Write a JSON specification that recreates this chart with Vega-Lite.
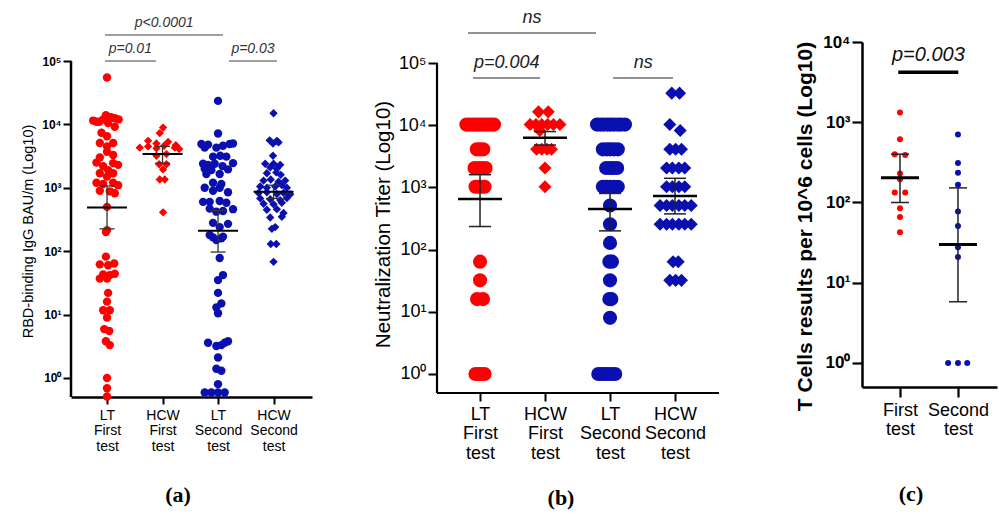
{
"$schema": "https://vega.github.io/schema/vega-lite/v6.json",
"padding": {"left": 20, "top": 9, "right": 1, "bottom": 1},
"concat": [
{
"width": 241, "height": 355,
"title": {"text": "(a)", "orient": "bottom", "anchor": "middle", "frame": "group", "offset": 32, "dx": -13.5, "font": "Liberation Serif", "fontSize": 22, "fontWeight": "bold", "color": "black"},
"layer": [
{"data": {"name": "a_pts"}, "mark": {"type": "point", "filled": true, "opacity": 1, "size": 70, "strokeWidth": 0},
"encoding": {
"x": {"field": "x", "type": "quantitative", "scale": {"domain": [0.351, 4.693], "nice": false, "zero": false},
"axis": {"values": [1, 2, 3, 4], "labelExpr": "split(['','LT|First|test','HCW|First|test','LT|Second|test','HCW|Second|test'][datum.value],'|')", "title": null, "labelFontSize": 14, "labelLineHeight": 15.5, "labelPadding": 4, "tickSize": 7, "tickWidth": 2, "domainWidth": 2.5, "labelOverlap": false, "labelFlush": false, "grid": false}},
"y": {"field": "v", "type": "quantitative", "scale": {"type": "log", "domain": [0.5012, 199500], "nice": false},
"axis": {"values": [1, 10, 100, 1000, 10000, 100000], "labelExpr": "'10' + ['⁰','¹','²','³','⁴','⁵'][round(log(datum.value)/LN10)]", "title": "RBD-binding IgG BAU/m (Log10)", "titleY": 189, "titleFontSize": 14.5, "titleFontWeight": "normal", "titlePadding": 6, "labelFontSize": 12, "labelFontWeight": "bold", "labelPadding": 2, "tickSize": 8, "tickWidth": 2, "domain": false, "grid": false, "labelOverlap": false}},
"color": {"field": "test", "type": "nominal", "scale": {"domain": ["First", "Second"], "range": ["#ff0000", "#0a0fb0"]}, "legend": null},
"shape": {"field": "cohort", "type": "nominal", "scale": {"domain": ["LT", "HCW"], "range": ["circle", "diamond"]}, "legend": null}
}},
{"data": {"name": "a_stats"}, "mark": {"type": "rule", "color": "#333333", "strokeWidth": 1.3},
"encoding": {"x": {"field": "g", "type": "quantitative", "scale": {"domain": [0.351, 4.693], "nice": false, "zero": false}},
"y": {"field": "lo", "type": "quantitative", "scale": {"type": "log", "domain": [0.5012, 199500], "nice": false}}, "y2": {"field": "hi"}}},
{"data": {"name": "a_stats"}, "mark": {"type": "tick", "orient": "horizontal", "size": 15, "thickness": 1.3, "color": "#333333", "opacity": 1},
"encoding": {"x": {"field": "g", "type": "quantitative", "scale": {"domain": [0.351, 4.693], "nice": false, "zero": false}},
"y": {"field": "lo", "type": "quantitative", "scale": {"type": "log", "domain": [0.5012, 199500], "nice": false}}}},
{"data": {"name": "a_stats"}, "mark": {"type": "tick", "orient": "horizontal", "size": 15, "thickness": 1.3, "color": "#333333", "opacity": 1},
"encoding": {"x": {"field": "g", "type": "quantitative", "scale": {"domain": [0.351, 4.693], "nice": false, "zero": false}},
"y": {"field": "hi", "type": "quantitative", "scale": {"type": "log", "domain": [0.5012, 199500], "nice": false}}}},
{"data": {"name": "a_stats"}, "mark": {"type": "tick", "orient": "horizontal", "size": 40, "thickness": 2, "color": "black", "opacity": 1},
"encoding": {"x": {"field": "g", "type": "quantitative", "scale": {"domain": [0.351, 4.693], "nice": false, "zero": false}},
"y": {"field": "mean", "type": "quantitative", "scale": {"type": "log", "domain": [0.5012, 199500], "nice": false}}}},
{"data": {"values": [{}]}, "mark": {"type": "rule", "color": "black", "strokeWidth": 2.5},
"encoding": {"x": {"datum": 0.351, "type": "quantitative", "scale": {"domain": [0.351, 4.693], "nice": false, "zero": false}},
"y": {"datum": 0.5012, "type": "quantitative", "scale": {"type": "log", "domain": [0.5012, 199500], "nice": false}}, "y2": {"datum": 100000}}},
{"data": {"name": "a_sig"}, "mark": {"type": "rule", "color": "#808080", "strokeWidth": 1.5},
"encoding": {"x": {"field": "x1", "type": "quantitative", "scale": {"domain": [0.351, 4.693], "nice": false, "zero": false}}, "x2": {"field": "x2"},
"y": {"field": "y", "type": "quantitative", "scale": {"type": "log", "domain": [0.5012, 199500], "nice": false}}}},
{"data": {"name": "a_sig"}, "mark": {"type": "text", "fontStyle": "italic", "fontSize": 14, "color": "#333333", "baseline": "alphabetic", "dy": -8},
"encoding": {"x": {"field": "xm", "type": "quantitative", "scale": {"domain": [0.351, 4.693], "nice": false, "zero": false}},
"y": {"field": "y", "type": "quantitative", "scale": {"type": "log", "domain": [0.5012, 199500], "nice": false}}, "text": {"field": "label"}}}
]
},
{
"width": 300, "height": 351,
"title": {"text": "(b)", "orient": "bottom", "anchor": "middle", "frame": "group", "offset": 26, "dx": -26, "font": "Liberation Serif", "fontSize": 22, "fontWeight": "bold", "color": "black"},
"layer": [
{"data": {"name": "b_pts"}, "mark": {"type": "point", "filled": true, "opacity": 1, "strokeWidth": 0},
"encoding": {
"x": {"field": "x", "type": "quantitative", "scale": {"domain": [0.338, 4.954], "nice": false, "zero": false},
"axis": {"values": [1, 2, 3, 4], "labelExpr": "split(['','LT|First|test','HCW|First|test','LT|Second|test','HCW|Second|test'][datum.value],'|')", "title": null, "labelFontSize": 18, "labelLineHeight": 19.5, "labelPadding": 4, "tickSize": 8, "tickWidth": 2, "domain": false, "labelOverlap": false, "labelFlush": false, "grid": false}},
"y": {"field": "v", "type": "quantitative", "scale": {"type": "log", "domain": [0.4947, 217600], "nice": false},
"axis": {"values": [1, 10, 100, 1000, 10000, 100000], "labelExpr": "'10' + ['⁰','¹','²','³','⁴','⁵'][round(log(datum.value)/LN10)]", "title": "Neutralization Titer (Log10)", "titleY": 182, "titleFontSize": 20.5, "titleFontWeight": "normal", "titlePadding": 5, "labelFontSize": 18, "labelFontWeight": "normal", "labelPadding": 2, "tickSize": 9, "tickWidth": 2, "domain": false, "grid": false, "labelOverlap": false}},
"color": {"field": "test", "type": "nominal", "scale": {"domain": ["First", "Second"], "range": ["#ff0000", "#0a0fb0"]}, "legend": null},
"shape": {"field": "cohort", "type": "nominal", "scale": {"domain": ["LT", "HCW"], "range": ["circle", "diamond"]}, "legend": null},
"size": {"field": "cohort", "type": "ordinal", "scale": {"domain": ["LT", "HCW"], "range": [200, 170]}, "legend": null}
}},
{"data": {"name": "b_stats"}, "mark": {"type": "rule", "color": "#222222", "strokeWidth": 1.5},
"encoding": {"x": {"field": "g", "type": "quantitative", "scale": {"domain": [0.338, 4.954], "nice": false, "zero": false}},
"y": {"field": "lo", "type": "quantitative", "scale": {"type": "log", "domain": [0.4947, 217600], "nice": false}}, "y2": {"field": "hi"}}},
{"data": {"name": "b_stats"}, "mark": {"type": "tick", "orient": "horizontal", "size": 22, "thickness": 1.5, "color": "#222222", "opacity": 1},
"encoding": {"x": {"field": "g", "type": "quantitative", "scale": {"domain": [0.338, 4.954], "nice": false, "zero": false}},
"y": {"field": "lo", "type": "quantitative", "scale": {"type": "log", "domain": [0.4947, 217600], "nice": false}}}},
{"data": {"name": "b_stats"}, "mark": {"type": "tick", "orient": "horizontal", "size": 22, "thickness": 1.5, "color": "#222222", "opacity": 1},
"encoding": {"x": {"field": "g", "type": "quantitative", "scale": {"domain": [0.338, 4.954], "nice": false, "zero": false}},
"y": {"field": "hi", "type": "quantitative", "scale": {"type": "log", "domain": [0.4947, 217600], "nice": false}}}},
{"data": {"name": "b_stats"}, "mark": {"type": "tick", "orient": "horizontal", "size": 44, "thickness": 2.5, "color": "black", "opacity": 1},
"encoding": {"x": {"field": "g", "type": "quantitative", "scale": {"domain": [0.338, 4.954], "nice": false, "zero": false}},
"y": {"field": "mean", "type": "quantitative", "scale": {"type": "log", "domain": [0.4947, 217600], "nice": false}}}},
{"data": {"values": [{}]}, "mark": {"type": "rule", "color": "black", "strokeWidth": 2.2},
"encoding": {"x": {"datum": 0.338, "type": "quantitative", "scale": {"domain": [0.338, 4.954], "nice": false, "zero": false}},
"y": {"datum": 0.4947, "type": "quantitative", "scale": {"type": "log", "domain": [0.4947, 217600], "nice": false}}, "y2": {"datum": 100000}}},
{"data": {"values": [{}]}, "mark": {"type": "rule", "color": "black", "strokeWidth": 2.2},
"encoding": {"x": {"datum": 0.338, "type": "quantitative", "scale": {"domain": [0.338, 4.954], "nice": false, "zero": false}}, "x2": {"datum": 4.677},
"y": {"datum": 0.4947, "type": "quantitative", "scale": {"type": "log", "domain": [0.4947, 217600], "nice": false}}}},
{"data": {"name": "b_sig"}, "mark": {"type": "rule", "color": "#6e6e6e", "strokeWidth": 1.5},
"encoding": {"x": {"field": "x1", "type": "quantitative", "scale": {"domain": [0.338, 4.954], "nice": false, "zero": false}}, "x2": {"field": "x2"},
"y": {"field": "y", "type": "quantitative", "scale": {"type": "log", "domain": [0.4947, 217600], "nice": false}}}},
{"data": {"name": "b_sig"}, "mark": {"type": "text", "fontStyle": "italic", "fontSize": 18, "color": "#222222", "baseline": "alphabetic", "dy": -10},
"encoding": {"x": {"field": "xm", "type": "quantitative", "scale": {"domain": [0.338, 4.954], "nice": false, "zero": false}},
"y": {"field": "y", "type": "quantitative", "scale": {"type": "log", "domain": [0.4947, 217600], "nice": false}}, "text": {"field": "label"}}}
]
},
{
"width": 135, "height": 345,
"title": {"text": "(c)", "orient": "bottom", "anchor": "middle", "frame": "group", "offset": 46, "dx": -18.5, "font": "Liberation Serif", "fontSize": 22, "fontWeight": "bold", "color": "black"},
"layer": [
{"data": {"name": "c_pts"}, "mark": {"type": "point", "filled": true, "opacity": 1, "size": 36, "strokeWidth": 0, "shape": "circle"},
"encoding": {
"x": {"field": "x", "type": "quantitative", "scale": {"domain": [0.345, 2.673], "nice": false, "zero": false},
"axis": {"values": [1, 2], "labelExpr": "split(['','First|test','Second|test'][datum.value],'|')", "title": null, "labelFontSize": 18, "labelLineHeight": 19, "labelPadding": 4, "tickSize": 10, "tickWidth": 2.2, "domainWidth": 2.5, "labelOverlap": false, "labelFlush": false, "grid": false}},
"y": {"field": "v", "type": "quantitative", "scale": {"type": "log", "domain": [0.502, 10000], "nice": false},
"axis": {"values": [1, 10, 100, 1000, 10000], "labelExpr": "'10' + ['⁰','¹','²','³','⁴','⁵'][round(log(datum.value)/LN10)]", "title": "T Cells results per 10^6 cells (Log10)", "titleY": 184, "titleFontSize": 21, "titleFontWeight": "bold", "titlePadding": 7, "labelFontSize": 17, "labelFontWeight": "bold", "labelPadding": 2, "tickSize": 10, "tickWidth": 2.2, "domainWidth": 2.5, "grid": false, "labelOverlap": false}},
"color": {"field": "test", "type": "nominal", "scale": {"domain": ["First", "Second"], "range": ["#ff0000", "#1414ff"]}, "legend": null}
}},
{"data": {"name": "c_stats"}, "mark": {"type": "rule", "color": "#222222", "strokeWidth": 1.5},
"encoding": {"x": {"field": "g", "type": "quantitative", "scale": {"domain": [0.345, 2.673], "nice": false, "zero": false}},
"y": {"field": "lo", "type": "quantitative", "scale": {"type": "log", "domain": [0.502, 10000], "nice": false}}, "y2": {"field": "hi"}}},
{"data": {"name": "c_stats"}, "mark": {"type": "tick", "orient": "horizontal", "size": 18, "thickness": 1.5, "color": "#222222", "opacity": 1},
"encoding": {"x": {"field": "g", "type": "quantitative", "scale": {"domain": [0.345, 2.673], "nice": false, "zero": false}},
"y": {"field": "lo", "type": "quantitative", "scale": {"type": "log", "domain": [0.502, 10000], "nice": false}}}},
{"data": {"name": "c_stats"}, "mark": {"type": "tick", "orient": "horizontal", "size": 18, "thickness": 1.5, "color": "#222222", "opacity": 1},
"encoding": {"x": {"field": "g", "type": "quantitative", "scale": {"domain": [0.345, 2.673], "nice": false, "zero": false}},
"y": {"field": "hi", "type": "quantitative", "scale": {"type": "log", "domain": [0.502, 10000], "nice": false}}}},
{"data": {"name": "c_stats"}, "mark": {"type": "tick", "orient": "horizontal", "size": 38, "thickness": 3, "color": "black", "opacity": 1},
"encoding": {"x": {"field": "g", "type": "quantitative", "scale": {"domain": [0.345, 2.673], "nice": false, "zero": false}},
"y": {"field": "mean", "type": "quantitative", "scale": {"type": "log", "domain": [0.502, 10000], "nice": false}}}},
{"data": {"name": "c_sig"}, "mark": {"type": "rule", "color": "black", "strokeWidth": 3.5},
"encoding": {"x": {"field": "x1", "type": "quantitative", "scale": {"domain": [0.345, 2.673], "nice": false, "zero": false}}, "x2": {"field": "x2"},
"y": {"field": "y", "type": "quantitative", "scale": {"type": "log", "domain": [0.502, 10000], "nice": false}}}},
{"data": {"name": "c_sig"}, "mark": {"type": "text", "fontStyle": "italic", "fontSize": 20, "color": "#111111", "baseline": "alphabetic", "dy": -11},
"encoding": {"x": {"field": "xm", "type": "quantitative", "scale": {"domain": [0.345, 2.673], "nice": false, "zero": false}},
"y": {"field": "y", "type": "quantitative", "scale": {"type": "log", "domain": [0.502, 10000], "nice": false}}, "text": {"field": "label"}}}
]
}
],
"columns": 3,
"align": "none",
"bounds": "flush",
"spacing": 125,
"config": {"view": {"stroke": null}, "font": "Liberation Sans", "axis": {"labelColor": "black", "titleColor": "black", "tickColor": "black", "domainColor": "black", "grid": false}},
"datasets": {
"a_stats": [{"g": 1, "mean": 490, "lo": 225, "hi": 1070}, {"g": 2, "mean": 3400, "lo": 2450, "hi": 4500}, {"g": 3, "mean": 210, "lo": 97, "hi": 440}, {"g": 4, "mean": 870, "lo": 680, "hi": 1100}],
"a_sig": [{"x1": 0.964, "x2": 3.09, "xm": 2.03, "y": 257000, "label": "p<0.0001"}, {"x1": 0.964, "x2": 1.883, "xm": 1.42, "y": 100000, "label": "p=0.01"}, {"x1": 3.198, "x2": 4.063, "xm": 3.63, "y": 100000, "label": "p=0.03"}],
"b_stats": [{"g": 1, "mean": 650, "lo": 235, "hi": 1600}, {"g": 2, "mean": 6300, "lo": 4800, "hi": 7900}, {"g": 3, "mean": 450, "lo": 200, "hi": 800}, {"g": 4, "mean": 730, "lo": 375, "hi": 1400}],
"b_sig": [{"x1": 0.815, "x2": 2.785, "xm": 1.8, "y": 303000, "label": "ns"}, {"x1": 0.892, "x2": 1.923, "xm": 1.41, "y": 57400, "label": "p=0.004"}, {"x1": 3.046, "x2": 3.969, "xm": 3.51, "y": 57400, "label": "ns"}],
"c_stats": [{"g": 1, "mean": 204, "lo": 100, "hi": 400}, {"g": 2, "mean": 30, "lo": 5.8, "hi": 152}],
"c_sig": [{"x1": 0.97, "x2": 2.005, "xm": 1.49, "y": 4190, "label": "p=0.003"}],
"c_pts": [
{"x": 1, "v": 1320, "test": "First"}, {"x": 1, "v": 615, "test": "First"}, {"x": 0.91, "v": 400, "test": "First"}, {"x": 1.09, "v": 390, "test": "First"}, {"x": 1, "v": 230, "test": "First"}, {"x": 1, "v": 195, "test": "First"}, {"x": 0.91, "v": 133, "test": "First"}, {"x": 1.09, "v": 133, "test": "First"}, {"x": 1, "v": 85, "test": "First"}, {"x": 1, "v": 66, "test": "First"}, {"x": 1, "v": 42.5, "test": "First"},
{"x": 2, "v": 706, "test": "Second"}, {"x": 2, "v": 310, "test": "Second"}, {"x": 2, "v": 235, "test": "Second"}, {"x": 2, "v": 166, "test": "Second"}, {"x": 2, "v": 77, "test": "Second"}, {"x": 2, "v": 51, "test": "Second"}, {"x": 2, "v": 27.6, "test": "Second"}, {"x": 2, "v": 21, "test": "Second"}, {"x": 1.83, "v": 1, "test": "Second"}, {"x": 2, "v": 1, "test": "Second"}, {"x": 2.16, "v": 1, "test": "Second"}
],
"b_pts": [
{"x": 0.79, "v": 10240, "cohort": "LT", "test": "First"}, {"x": 0.837, "v": 10240, "cohort": "LT", "test": "First"}, {"x": 0.885, "v": 10240, "cohort": "LT", "test": "First"}, {"x": 0.932, "v": 10240, "cohort": "LT", "test": "First"}, {"x": 0.98, "v": 10240, "cohort": "LT", "test": "First"}, {"x": 1.027, "v": 10240, "cohort": "LT", "test": "First"}, {"x": 1.075, "v": 10240, "cohort": "LT", "test": "First"}, {"x": 1.122, "v": 10240, "cohort": "LT", "test": "First"}, {"x": 1.17, "v": 10240, "cohort": "LT", "test": "First"}, {"x": 1.215, "v": 10240, "cohort": "LT", "test": "First"},
{"x": 0.95, "v": 4096, "cohort": "LT", "test": "First"}, {"x": 1.0, "v": 4096, "cohort": "LT", "test": "First"}, {"x": 1.05, "v": 4096, "cohort": "LT", "test": "First"},
{"x": 0.915, "v": 2048, "cohort": "LT", "test": "First"}, {"x": 0.97, "v": 2048, "cohort": "LT", "test": "First"}, {"x": 1.03, "v": 2048, "cohort": "LT", "test": "First"}, {"x": 1.085, "v": 2048, "cohort": "LT", "test": "First"},
{"x": 0.93, "v": 1024, "cohort": "LT", "test": "First"}, {"x": 0.977, "v": 1024, "cohort": "LT", "test": "First"}, {"x": 1.023, "v": 1024, "cohort": "LT", "test": "First"}, {"x": 1.07, "v": 1024, "cohort": "LT", "test": "First"},
{"x": 1.0, "v": 64, "cohort": "LT", "test": "First"}, {"x": 1.0, "v": 32, "cohort": "LT", "test": "First"}, {"x": 0.955, "v": 16, "cohort": "LT", "test": "First"}, {"x": 1.045, "v": 16, "cohort": "LT", "test": "First"},
{"x": 0.93, "v": 1, "cohort": "LT", "test": "First"}, {"x": 0.977, "v": 1, "cohort": "LT", "test": "First"}, {"x": 1.023, "v": 1, "cohort": "LT", "test": "First"}, {"x": 1.07, "v": 1, "cohort": "LT", "test": "First"},
{"x": 1.9, "v": 16384, "cohort": "HCW", "test": "First"}, {"x": 2.05, "v": 16384, "cohort": "HCW", "test": "First"},
{"x": 1.77, "v": 10240, "cohort": "HCW", "test": "First"}, {"x": 1.86, "v": 10240, "cohort": "HCW", "test": "First"}, {"x": 1.95, "v": 10240, "cohort": "HCW", "test": "First"}, {"x": 2.04, "v": 10240, "cohort": "HCW", "test": "First"}, {"x": 2.13, "v": 10240, "cohort": "HCW", "test": "First"}, {"x": 2.23, "v": 10240, "cohort": "HCW", "test": "First"},
{"x": 1.92, "v": 8192, "cohort": "HCW", "test": "First"},
{"x": 1.87, "v": 4096, "cohort": "HCW", "test": "First"}, {"x": 1.95, "v": 4096, "cohort": "HCW", "test": "First"}, {"x": 2.03, "v": 4096, "cohort": "HCW", "test": "First"}, {"x": 2.1, "v": 4096, "cohort": "HCW", "test": "First"},
{"x": 2.0, "v": 2048, "cohort": "HCW", "test": "First"}, {"x": 2.0, "v": 1024, "cohort": "HCW", "test": "First"},
{"x": 2.8, "v": 10240, "cohort": "LT", "test": "Second"}, {"x": 2.85, "v": 10240, "cohort": "LT", "test": "Second"}, {"x": 2.9, "v": 10240, "cohort": "LT", "test": "Second"}, {"x": 2.96, "v": 10240, "cohort": "LT", "test": "Second"}, {"x": 3.01, "v": 10240, "cohort": "LT", "test": "Second"}, {"x": 3.06, "v": 10240, "cohort": "LT", "test": "Second"}, {"x": 3.12, "v": 10240, "cohort": "LT", "test": "Second"}, {"x": 3.17, "v": 10240, "cohort": "LT", "test": "Second"}, {"x": 3.23, "v": 10240, "cohort": "LT", "test": "Second"},
{"x": 2.89, "v": 4096, "cohort": "LT", "test": "Second"}, {"x": 2.95, "v": 4096, "cohort": "LT", "test": "Second"}, {"x": 3.0, "v": 4096, "cohort": "LT", "test": "Second"}, {"x": 3.06, "v": 4096, "cohort": "LT", "test": "Second"}, {"x": 3.12, "v": 4096, "cohort": "LT", "test": "Second"},
{"x": 2.94, "v": 2048, "cohort": "LT", "test": "Second"}, {"x": 3.0, "v": 2048, "cohort": "LT", "test": "Second"}, {"x": 3.05, "v": 2048, "cohort": "LT", "test": "Second"}, {"x": 3.11, "v": 2048, "cohort": "LT", "test": "Second"},
{"x": 2.89, "v": 1024, "cohort": "LT", "test": "Second"}, {"x": 2.95, "v": 1024, "cohort": "LT", "test": "Second"}, {"x": 3.0, "v": 1024, "cohort": "LT", "test": "Second"}, {"x": 3.06, "v": 1024, "cohort": "LT", "test": "Second"}, {"x": 3.12, "v": 1024, "cohort": "LT", "test": "Second"},
{"x": 3.0, "v": 512, "cohort": "LT", "test": "Second"}, {"x": 3.0, "v": 256, "cohort": "LT", "test": "Second"}, {"x": 3.0, "v": 128, "cohort": "LT", "test": "Second"},
{"x": 2.99, "v": 64, "cohort": "LT", "test": "Second"}, {"x": 3.03, "v": 64, "cohort": "LT", "test": "Second"}, {"x": 3.0, "v": 32, "cohort": "LT", "test": "Second"},
{"x": 2.99, "v": 16, "cohort": "LT", "test": "Second"}, {"x": 3.02, "v": 16, "cohort": "LT", "test": "Second"}, {"x": 3.0, "v": 8, "cohort": "LT", "test": "Second"},
{"x": 2.82, "v": 1, "cohort": "LT", "test": "Second"}, {"x": 2.87, "v": 1, "cohort": "LT", "test": "Second"}, {"x": 2.92, "v": 1, "cohort": "LT", "test": "Second"}, {"x": 2.97, "v": 1, "cohort": "LT", "test": "Second"}, {"x": 3.03, "v": 1, "cohort": "LT", "test": "Second"}, {"x": 3.08, "v": 1, "cohort": "LT", "test": "Second"},
{"x": 3.95, "v": 32768, "cohort": "HCW", "test": "Second"}, {"x": 4.07, "v": 32768, "cohort": "HCW", "test": "Second"},
{"x": 3.92, "v": 10240, "cohort": "HCW", "test": "Second"}, {"x": 4.08, "v": 8192, "cohort": "HCW", "test": "Second"},
{"x": 3.92, "v": 4096, "cohort": "HCW", "test": "Second"}, {"x": 4.01, "v": 4096, "cohort": "HCW", "test": "Second"}, {"x": 4.1, "v": 4096, "cohort": "HCW", "test": "Second"},
{"x": 3.87, "v": 2048, "cohort": "HCW", "test": "Second"}, {"x": 3.96, "v": 2048, "cohort": "HCW", "test": "Second"}, {"x": 4.06, "v": 2048, "cohort": "HCW", "test": "Second"}, {"x": 4.15, "v": 2048, "cohort": "HCW", "test": "Second"},
{"x": 3.87, "v": 1024, "cohort": "HCW", "test": "Second"}, {"x": 3.96, "v": 1024, "cohort": "HCW", "test": "Second"}, {"x": 4.06, "v": 1024, "cohort": "HCW", "test": "Second"}, {"x": 4.15, "v": 1024, "cohort": "HCW", "test": "Second"},
{"x": 3.77, "v": 512, "cohort": "HCW", "test": "Second"}, {"x": 3.87, "v": 512, "cohort": "HCW", "test": "Second"}, {"x": 3.96, "v": 512, "cohort": "HCW", "test": "Second"}, {"x": 4.06, "v": 512, "cohort": "HCW", "test": "Second"}, {"x": 4.15, "v": 512, "cohort": "HCW", "test": "Second"}, {"x": 4.25, "v": 512, "cohort": "HCW", "test": "Second"},
{"x": 3.77, "v": 256, "cohort": "HCW", "test": "Second"}, {"x": 3.87, "v": 256, "cohort": "HCW", "test": "Second"}, {"x": 3.96, "v": 256, "cohort": "HCW", "test": "Second"}, {"x": 4.06, "v": 256, "cohort": "HCW", "test": "Second"}, {"x": 4.15, "v": 256, "cohort": "HCW", "test": "Second"}, {"x": 4.25, "v": 256, "cohort": "HCW", "test": "Second"},
{"x": 3.97, "v": 64, "cohort": "HCW", "test": "Second"}, {"x": 4.05, "v": 64, "cohort": "HCW", "test": "Second"},
{"x": 3.92, "v": 32, "cohort": "HCW", "test": "Second"}, {"x": 4.01, "v": 32, "cohort": "HCW", "test": "Second"}, {"x": 4.1, "v": 32, "cohort": "HCW", "test": "Second"}
],
"a_pts": [
{"x": 1.0, "v": 55000, "cohort": "LT", "test": "First"}, {"x": 0.75, "v": 11500, "cohort": "LT", "test": "First"}, {"x": 0.86, "v": 11000, "cohort": "LT", "test": "First"}, {"x": 0.93, "v": 12000, "cohort": "LT", "test": "First"}, {"x": 0.98, "v": 14000, "cohort": "LT", "test": "First"}, {"x": 1.07, "v": 13000, "cohort": "LT", "test": "First"}, {"x": 1.14, "v": 12500, "cohort": "LT", "test": "First"}, {"x": 1.21, "v": 12000, "cohort": "LT", "test": "First"}, {"x": 0.81, "v": 11000, "cohort": "LT", "test": "First"}, {"x": 1.02, "v": 10500, "cohort": "LT", "test": "First"},
{"x": 1.14, "v": 9200, "cohort": "LT", "test": "First"}, {"x": 0.9, "v": 7400, "cohort": "LT", "test": "First"}, {"x": 1.0, "v": 6500, "cohort": "LT", "test": "First"}, {"x": 0.87, "v": 5100, "cohort": "LT", "test": "First"}, {"x": 1.11, "v": 5100, "cohort": "LT", "test": "First"}, {"x": 1.0, "v": 4500, "cohort": "LT", "test": "First"}, {"x": 1.0, "v": 3700, "cohort": "LT", "test": "First"}, {"x": 1.11, "v": 3300, "cohort": "LT", "test": "First"}, {"x": 0.87, "v": 3000, "cohort": "LT", "test": "First"}, {"x": 0.81, "v": 2500, "cohort": "LT", "test": "First"},
{"x": 1.11, "v": 2450, "cohort": "LT", "test": "First"}, {"x": 1.2, "v": 2300, "cohort": "LT", "test": "First"}, {"x": 0.93, "v": 2200, "cohort": "LT", "test": "First"}, {"x": 1.02, "v": 1900, "cohort": "LT", "test": "First"}, {"x": 0.87, "v": 1700, "cohort": "LT", "test": "First"}, {"x": 1.11, "v": 1700, "cohort": "LT", "test": "First"}, {"x": 1.0, "v": 1500, "cohort": "LT", "test": "First"}, {"x": 0.81, "v": 1200, "cohort": "LT", "test": "First"}, {"x": 0.93, "v": 1150, "cohort": "LT", "test": "First"}, {"x": 1.11, "v": 1200, "cohort": "LT", "test": "First"},
{"x": 1.2, "v": 1100, "cohort": "LT", "test": "First"}, {"x": 0.87, "v": 900, "cohort": "LT", "test": "First"}, {"x": 1.05, "v": 880, "cohort": "LT", "test": "First"}, {"x": 1.14, "v": 820, "cohort": "LT", "test": "First"}, {"x": 1.0, "v": 500, "cohort": "LT", "test": "First"}, {"x": 1.0, "v": 215, "cohort": "LT", "test": "First"}, {"x": 0.98, "v": 200, "cohort": "LT", "test": "First"}, {"x": 0.98, "v": 82, "cohort": "LT", "test": "First"}, {"x": 0.87, "v": 62, "cohort": "LT", "test": "First"}, {"x": 1.02, "v": 60, "cohort": "LT", "test": "First"},
{"x": 1.13, "v": 64, "cohort": "LT", "test": "First"}, {"x": 0.93, "v": 43, "cohort": "LT", "test": "First"}, {"x": 1.05, "v": 42, "cohort": "LT", "test": "First"}, {"x": 1.14, "v": 44, "cohort": "LT", "test": "First"}, {"x": 0.87, "v": 37, "cohort": "LT", "test": "First"}, {"x": 1.0, "v": 37, "cohort": "LT", "test": "First"}, {"x": 1.02, "v": 22, "cohort": "LT", "test": "First"}, {"x": 1.0, "v": 16, "cohort": "LT", "test": "First"}, {"x": 0.93, "v": 11.7, "cohort": "LT", "test": "First"}, {"x": 1.05, "v": 11.7, "cohort": "LT", "test": "First"},
{"x": 1.0, "v": 9, "cohort": "LT", "test": "First"}, {"x": 0.95, "v": 5.9, "cohort": "LT", "test": "First"}, {"x": 1.04, "v": 5.5, "cohort": "LT", "test": "First"}, {"x": 0.98, "v": 3.8, "cohort": "LT", "test": "First"}, {"x": 1.05, "v": 3.3, "cohort": "LT", "test": "First"}, {"x": 1.0, "v": 1.0, "cohort": "LT", "test": "First"}, {"x": 1.0, "v": 0.69, "cohort": "LT", "test": "First"}, {"x": 1.0, "v": 0.51, "cohort": "LT", "test": "First"},
{"x": 2.01, "v": 8900, "cohort": "HCW", "test": "First"}, {"x": 1.95, "v": 7300, "cohort": "HCW", "test": "First"}, {"x": 1.74, "v": 5500, "cohort": "HCW", "test": "First"}, {"x": 1.89, "v": 5000, "cohort": "HCW", "test": "First"}, {"x": 2.1, "v": 5300, "cohort": "HCW", "test": "First"}, {"x": 2.24, "v": 4700, "cohort": "HCW", "test": "First"}, {"x": 1.59, "v": 4300, "cohort": "HCW", "test": "First"}, {"x": 1.74, "v": 4500, "cohort": "HCW", "test": "First"}, {"x": 1.89, "v": 4200, "cohort": "HCW", "test": "First"}, {"x": 2.03, "v": 4600, "cohort": "HCW", "test": "First"},
{"x": 2.22, "v": 4300, "cohort": "HCW", "test": "First"}, {"x": 2.3, "v": 4100, "cohort": "HCW", "test": "First"}, {"x": 2.07, "v": 3400, "cohort": "HCW", "test": "First"}, {"x": 1.89, "v": 3200, "cohort": "HCW", "test": "First"}, {"x": 1.94, "v": 2350, "cohort": "HCW", "test": "First"}, {"x": 2.07, "v": 2350, "cohort": "HCW", "test": "First"}, {"x": 2.01, "v": 1950, "cohort": "HCW", "test": "First"}, {"x": 1.95, "v": 1350, "cohort": "HCW", "test": "First"}, {"x": 2.04, "v": 1350, "cohort": "HCW", "test": "First"}, {"x": 2.01, "v": 410, "cohort": "HCW", "test": "First"},
{"x": 3.0, "v": 23500, "cohort": "LT", "test": "Second"}, {"x": 3.0, "v": 7200, "cohort": "LT", "test": "Second"}, {"x": 2.7, "v": 4900, "cohort": "LT", "test": "Second"}, {"x": 2.82, "v": 4800, "cohort": "LT", "test": "Second"}, {"x": 2.97, "v": 4300, "cohort": "LT", "test": "Second"}, {"x": 3.09, "v": 4600, "cohort": "LT", "test": "Second"}, {"x": 3.21, "v": 4900, "cohort": "LT", "test": "Second"}, {"x": 3.27, "v": 5000, "cohort": "LT", "test": "Second"}, {"x": 2.76, "v": 4300, "cohort": "LT", "test": "Second"}, {"x": 2.91, "v": 3100, "cohort": "LT", "test": "Second"},
{"x": 3.15, "v": 3100, "cohort": "LT", "test": "Second"}, {"x": 3.04, "v": 3200, "cohort": "LT", "test": "Second"}, {"x": 2.73, "v": 2400, "cohort": "LT", "test": "Second"}, {"x": 2.82, "v": 2300, "cohort": "LT", "test": "Second"}, {"x": 2.94, "v": 2400, "cohort": "LT", "test": "Second"}, {"x": 3.08, "v": 2200, "cohort": "LT", "test": "Second"}, {"x": 3.27, "v": 2450, "cohort": "LT", "test": "Second"}, {"x": 2.76, "v": 2000, "cohort": "LT", "test": "Second"}, {"x": 2.88, "v": 1900, "cohort": "LT", "test": "Second"}, {"x": 3.18, "v": 1950, "cohort": "LT", "test": "Second"},
{"x": 2.79, "v": 1650, "cohort": "LT", "test": "Second"}, {"x": 3.03, "v": 1650, "cohort": "LT", "test": "Second"}, {"x": 2.91, "v": 1200, "cohort": "LT", "test": "Second"}, {"x": 3.06, "v": 1150, "cohort": "LT", "test": "Second"}, {"x": 2.76, "v": 1000, "cohort": "LT", "test": "Second"}, {"x": 3.03, "v": 1000, "cohort": "LT", "test": "Second"}, {"x": 2.91, "v": 900, "cohort": "LT", "test": "Second"}, {"x": 3.18, "v": 850, "cohort": "LT", "test": "Second"}, {"x": 2.73, "v": 600, "cohort": "LT", "test": "Second"}, {"x": 2.85, "v": 600, "cohort": "LT", "test": "Second"},
{"x": 3.03, "v": 620, "cohort": "LT", "test": "Second"}, {"x": 3.15, "v": 580, "cohort": "LT", "test": "Second"}, {"x": 2.85, "v": 470, "cohort": "LT", "test": "Second"}, {"x": 3.27, "v": 460, "cohort": "LT", "test": "Second"}, {"x": 2.97, "v": 420, "cohort": "LT", "test": "Second"}, {"x": 3.09, "v": 430, "cohort": "LT", "test": "Second"}, {"x": 2.91, "v": 280, "cohort": "LT", "test": "Second"}, {"x": 3.18, "v": 270, "cohort": "LT", "test": "Second"}, {"x": 3.03, "v": 240, "cohort": "LT", "test": "Second"}, {"x": 2.85, "v": 180, "cohort": "LT", "test": "Second"},
{"x": 3.06, "v": 160, "cohort": "LT", "test": "Second"}, {"x": 2.97, "v": 150, "cohort": "LT", "test": "Second"}, {"x": 2.91, "v": 165, "cohort": "LT", "test": "Second"}, {"x": 3.09, "v": 170, "cohort": "LT", "test": "Second"}, {"x": 3.03, "v": 78, "cohort": "LT", "test": "Second"}, {"x": 3.09, "v": 42, "cohort": "LT", "test": "Second"}, {"x": 3.0, "v": 35, "cohort": "LT", "test": "Second"}, {"x": 3.0, "v": 22, "cohort": "LT", "test": "Second"}, {"x": 3.06, "v": 15, "cohort": "LT", "test": "Second"}, {"x": 2.97, "v": 13, "cohort": "LT", "test": "Second"},
{"x": 3.0, "v": 10.5, "cohort": "LT", "test": "Second"}, {"x": 2.82, "v": 3.6, "cohort": "LT", "test": "Second"}, {"x": 2.97, "v": 3.2, "cohort": "LT", "test": "Second"}, {"x": 3.06, "v": 3.3, "cohort": "LT", "test": "Second"}, {"x": 3.18, "v": 3.8, "cohort": "LT", "test": "Second"}, {"x": 3.12, "v": 3.6, "cohort": "LT", "test": "Second"}, {"x": 3.0, "v": 2.1, "cohort": "LT", "test": "Second"}, {"x": 2.97, "v": 1.4, "cohort": "LT", "test": "Second"}, {"x": 3.06, "v": 1.3, "cohort": "LT", "test": "Second"}, {"x": 3.0, "v": 0.8, "cohort": "LT", "test": "Second"},
{"x": 2.76, "v": 0.59, "cohort": "LT", "test": "Second"}, {"x": 2.88, "v": 0.59, "cohort": "LT", "test": "Second"}, {"x": 3.0, "v": 0.59, "cohort": "LT", "test": "Second"}, {"x": 3.12, "v": 0.59, "cohort": "LT", "test": "Second"},
{"x": 4.0, "v": 15000, "cohort": "HCW", "test": "Second"}, {"x": 3.93, "v": 5600, "cohort": "HCW", "test": "Second"}, {"x": 4.06, "v": 5500, "cohort": "HCW", "test": "Second"}, {"x": 3.99, "v": 5000, "cohort": "HCW", "test": "Second"}, {"x": 4.09, "v": 5200, "cohort": "HCW", "test": "Second"}, {"x": 3.99, "v": 3200, "cohort": "HCW", "test": "Second"}, {"x": 3.85, "v": 2400, "cohort": "HCW", "test": "Second"}, {"x": 4.0, "v": 2400, "cohort": "HCW", "test": "Second"}, {"x": 4.12, "v": 2300, "cohort": "HCW", "test": "Second"}, {"x": 3.94, "v": 2100, "cohort": "HCW", "test": "Second"},
{"x": 4.06, "v": 2000, "cohort": "HCW", "test": "Second"}, {"x": 3.88, "v": 1700, "cohort": "HCW", "test": "Second"}, {"x": 4.05, "v": 1750, "cohort": "HCW", "test": "Second"}, {"x": 4.13, "v": 1600, "cohort": "HCW", "test": "Second"}, {"x": 3.82, "v": 1300, "cohort": "HCW", "test": "Second"}, {"x": 3.95, "v": 1350, "cohort": "HCW", "test": "Second"}, {"x": 4.09, "v": 1250, "cohort": "HCW", "test": "Second"}, {"x": 4.21, "v": 1300, "cohort": "HCW", "test": "Second"}, {"x": 3.76, "v": 1050, "cohort": "HCW", "test": "Second"}, {"x": 3.88, "v": 1000, "cohort": "HCW", "test": "Second"},
{"x": 4.03, "v": 1050, "cohort": "HCW", "test": "Second"}, {"x": 4.15, "v": 1100, "cohort": "HCW", "test": "Second"}, {"x": 4.24, "v": 1000, "cohort": "HCW", "test": "Second"}, {"x": 3.73, "v": 830, "cohort": "HCW", "test": "Second"}, {"x": 3.88, "v": 850, "cohort": "HCW", "test": "Second"}, {"x": 4.06, "v": 800, "cohort": "HCW", "test": "Second"}, {"x": 4.18, "v": 830, "cohort": "HCW", "test": "Second"}, {"x": 4.3, "v": 790, "cohort": "HCW", "test": "Second"}, {"x": 3.76, "v": 680, "cohort": "HCW", "test": "Second"}, {"x": 3.94, "v": 660, "cohort": "HCW", "test": "Second"},
{"x": 4.12, "v": 640, "cohort": "HCW", "test": "Second"}, {"x": 4.24, "v": 690, "cohort": "HCW", "test": "Second"}, {"x": 3.82, "v": 560, "cohort": "HCW", "test": "Second"}, {"x": 4.0, "v": 550, "cohort": "HCW", "test": "Second"}, {"x": 4.15, "v": 580, "cohort": "HCW", "test": "Second"}, {"x": 3.88, "v": 450, "cohort": "HCW", "test": "Second"}, {"x": 4.06, "v": 460, "cohort": "HCW", "test": "Second"}, {"x": 4.18, "v": 400, "cohort": "HCW", "test": "Second"}, {"x": 3.94, "v": 340, "cohort": "HCW", "test": "Second"}, {"x": 4.15, "v": 350, "cohort": "HCW", "test": "Second"},
{"x": 4.03, "v": 240, "cohort": "HCW", "test": "Second"}, {"x": 3.97, "v": 225, "cohort": "HCW", "test": "Second"}, {"x": 3.95, "v": 130, "cohort": "HCW", "test": "Second"}, {"x": 4.05, "v": 130, "cohort": "HCW", "test": "Second"}, {"x": 4.0, "v": 68, "cohort": "HCW", "test": "Second"}
]
}
}
